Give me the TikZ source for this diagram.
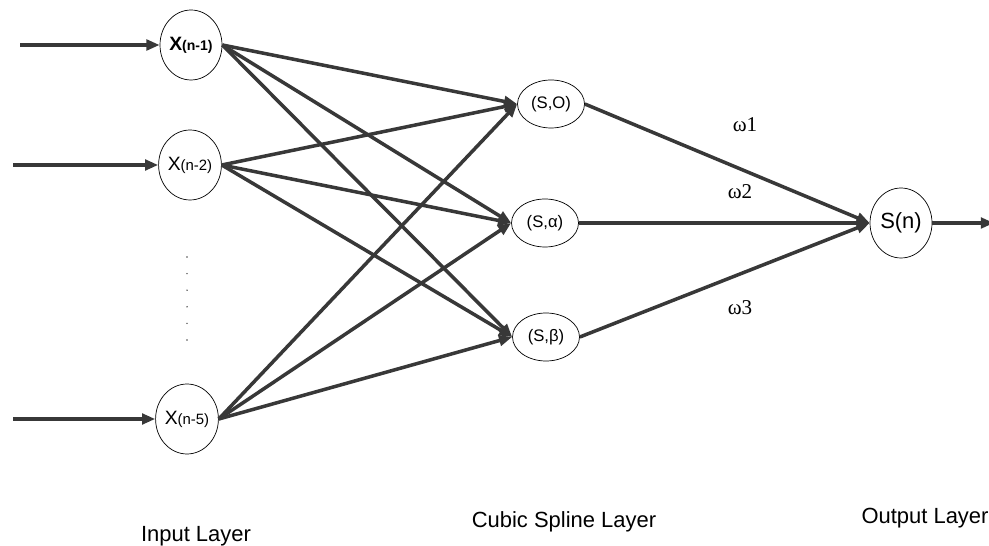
\documentclass[tikz,border=0pt]{standalone}
\usepackage{fontspec}
\setmainfont{Liberation Sans}
\newfontfamily\serifw{Liberation Serif}
\usetikzlibrary{arrows.meta, shapes.geometric}

\begin{document}
\begin{tikzpicture}[
  x=0.02cm, y=-0.02cm,
  >={Triangle[length=7.5pt,width=6pt]},
  unit/.style={ellipse, draw, thin, inner sep=0pt},
  inp/.style={unit, minimum width=62*0.02cm, minimum height=70*0.02cm},
  spl/.style={unit, minimum width=67*0.02cm, minimum height=48*0.02cm, font=\fontsize{9.5}{10}\selectfont},
  link/.style={->, line width=2pt, draw=black!78},
  wt/.style={font=\serifw\fontsize{12}{13}\selectfont},
  lay/.style={font=\fontsize{12.5}{14}\selectfont}
]
  \useasboundingbox (0,0) rectangle (989,546);
  % input layer
  \node[inp] (x1) at (191,45) {\fontsize{11}{12}\selectfont\textbf{X}{\fontsize{8}{9}\selectfont\bfseries(n-1)}};
  \node[inp] (x2) at (190,165) {\fontsize{11}{12}\selectfont X{\fontsize{8.5}{9}\selectfont(n-2)}};
  \node[inp] (x5) at (187,419) {\fontsize{11}{12}\selectfont X{\fontsize{8.5}{9}\selectfont(n-5)}};
  \foreach \k in {0,...,5}
    \fill[black!70] (187,257+16.6*\k) circle (0.8);
  % cubic spline layer
  \node[spl] (s0) at (551,104) {(S,O)};
  \node[spl] (sa) at (545,223) {(S,α)};
  \node[spl] (sb) at (546,337) {(S,β)};
  % output layer
  \node[inp, font=\fontsize{12.5}{13}\selectfont] (out) at (901,223) {S(n)};
  % inputs
  \coordinate (i1) at (20,45);
  \coordinate (i2) at (13,165);
  \coordinate (i5) at (13,419);
  \coordinate (o) at (994,223);
  \draw[link] (i1) -- (x1.west);
  \draw[link] (i2) -- (x2.west);
  \draw[link] (i5) -- (x5.west);
  \draw[link] (out.east) -- (o);
  % connections
  \foreach \a in {x1,x2,x5}
    \foreach \b in {s0,sa,sb}
      \draw[link] (\a.east) -- (\b.west);
  \draw[link] (s0.east) -- (out.west);
  \draw[link] (sa.east) -- (out.west);
  \draw[link] (sb.east) -- (out.west);
  % weights
  \node[wt] (w1) at (745,125) {ω1};
  \node[wt] (w2) at (740,192) {ω2};
  \node[wt] (w3) at (740,308) {ω3};
  % layer names
  \node[lay] (l1) at (196,536) {Input Layer};
  \node[lay] (l2) at (564,522) {Cubic Spline Layer};
  \node[lay] (l3) at (925,518) {Output Layer};
\end{tikzpicture}
\end{document}
